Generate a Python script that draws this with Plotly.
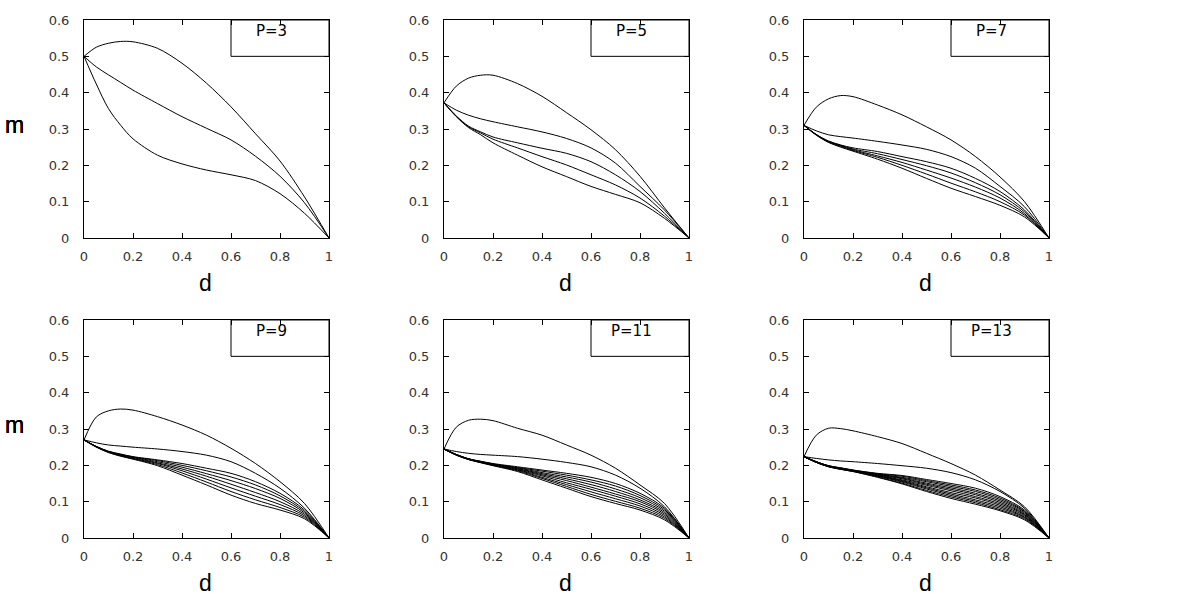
import plotly.graph_objects as go

# d grid shared by every curve
d_vals = [0, 0.05, 0.1, 0.15, 0.2, 0.3, 0.4, 0.5, 0.6, 0.7, 0.8, 0.9, 1.0]

p_labels = ["P=3", "P=5", "P=7", "P=9", "P=11", "P=13"]

m_p3 = [
    [0.5, 0.525, 0.536, 0.541, 0.54, 0.522, 0.481, 0.426, 0.361, 0.287, 0.212, 0.113, 0],
    [0.5, 0.471, 0.449, 0.428, 0.407, 0.37, 0.334, 0.302, 0.27, 0.225, 0.17, 0.097, 0],
    [0.5, 0.424, 0.356, 0.31, 0.273, 0.228, 0.204, 0.187, 0.174, 0.158, 0.122, 0.068, 0],
]

m_p5 = [
    [0.372, 0.418, 0.44, 0.448, 0.448, 0.425, 0.39, 0.345, 0.298, 0.243, 0.17, 0.083, 0],
    [0.372, 0.352, 0.338, 0.328, 0.32, 0.306, 0.292, 0.274, 0.248, 0.206, 0.142, 0.077, 0],
    [0.372, 0.336, 0.308, 0.292, 0.278, 0.262, 0.247, 0.233, 0.21, 0.174, 0.128, 0.068, 0],
    [0.372, 0.335, 0.306, 0.289, 0.272, 0.248, 0.224, 0.201, 0.174, 0.146, 0.11, 0.06, 0],
    [0.372, 0.334, 0.304, 0.284, 0.262, 0.228, 0.196, 0.169, 0.142, 0.12, 0.097, 0.054, 0],
]

m_p7 = [
    [0.31, 0.36, 0.383, 0.392, 0.389, 0.366, 0.339, 0.306, 0.27, 0.224, 0.168, 0.1, 0],
    [0.31, 0.295, 0.284, 0.279, 0.275, 0.266, 0.256, 0.244, 0.224, 0.192, 0.142, 0.086, 0],
    [0.31, 0.285, 0.267, 0.256, 0.248, 0.238, 0.224, 0.21, 0.192, 0.164, 0.128, 0.077, 0],
    [0.31, 0.285, 0.266, 0.255, 0.245, 0.232, 0.216, 0.199, 0.179, 0.152, 0.119, 0.072, 0],
    [0.31, 0.284, 0.265, 0.254, 0.243, 0.226, 0.208, 0.187, 0.165, 0.14, 0.11, 0.067, 0],
    [0.31, 0.284, 0.264, 0.252, 0.241, 0.222, 0.2, 0.176, 0.151, 0.127, 0.1, 0.063, 0],
    [0.31, 0.283, 0.263, 0.25, 0.239, 0.217, 0.192, 0.164, 0.137, 0.114, 0.09, 0.058, 0],
]

m_p9 = [
    [0.27, 0.333, 0.35, 0.355, 0.352, 0.334, 0.311, 0.283, 0.247, 0.205, 0.155, 0.095, 0],
    [0.27, 0.262, 0.256, 0.253, 0.25, 0.245, 0.238, 0.228, 0.21, 0.178, 0.137, 0.082, 0],
    [0.27, 0.252, 0.239, 0.231, 0.224, 0.215, 0.205, 0.192, 0.178, 0.155, 0.123, 0.077, 0],
    [0.27, 0.252, 0.238, 0.23, 0.223, 0.213, 0.2, 0.185, 0.168, 0.146, 0.116, 0.073, 0],
    [0.27, 0.252, 0.238, 0.229, 0.222, 0.21, 0.195, 0.177, 0.158, 0.136, 0.109, 0.069, 0],
    [0.27, 0.251, 0.237, 0.228, 0.221, 0.207, 0.19, 0.17, 0.148, 0.125, 0.1, 0.065, 0],
    [0.27, 0.251, 0.237, 0.227, 0.219, 0.205, 0.185, 0.162, 0.138, 0.115, 0.092, 0.061, 0],
    [0.27, 0.251, 0.236, 0.226, 0.218, 0.202, 0.179, 0.154, 0.128, 0.105, 0.084, 0.057, 0],
    [0.27, 0.25, 0.235, 0.225, 0.217, 0.199, 0.173, 0.146, 0.118, 0.095, 0.077, 0.053, 0],
]

m_p11 = [
    [0.245, 0.305, 0.324, 0.327, 0.323, 0.302, 0.283, 0.256, 0.228, 0.192, 0.146, 0.095, 0],
    [0.245, 0.238, 0.233, 0.23, 0.228, 0.224, 0.217, 0.208, 0.196, 0.173, 0.137, 0.086, 0],
    [0.245, 0.23, 0.218, 0.211, 0.205, 0.196, 0.187, 0.178, 0.167, 0.15, 0.123, 0.082, 0],
    [0.245, 0.23, 0.218, 0.211, 0.204, 0.194, 0.184, 0.173, 0.16, 0.143, 0.117, 0.078, 0],
    [0.245, 0.23, 0.218, 0.21, 0.203, 0.193, 0.18, 0.168, 0.154, 0.135, 0.111, 0.074, 0],
    [0.245, 0.229, 0.217, 0.21, 0.203, 0.191, 0.177, 0.163, 0.147, 0.128, 0.105, 0.07, 0],
    [0.245, 0.229, 0.217, 0.209, 0.202, 0.19, 0.174, 0.158, 0.14, 0.121, 0.1, 0.066, 0],
    [0.245, 0.229, 0.217, 0.209, 0.201, 0.188, 0.171, 0.152, 0.134, 0.115, 0.094, 0.062, 0],
    [0.245, 0.229, 0.216, 0.208, 0.2, 0.187, 0.167, 0.147, 0.127, 0.108, 0.088, 0.058, 0],
    [0.245, 0.228, 0.216, 0.208, 0.2, 0.185, 0.164, 0.142, 0.12, 0.101, 0.082, 0.054, 0],
    [0.245, 0.228, 0.216, 0.207, 0.199, 0.183, 0.16, 0.137, 0.114, 0.095, 0.077, 0.05, 0],
]

m_p13 = [
    [0.224, 0.283, 0.302, 0.301, 0.295, 0.279, 0.26, 0.233, 0.205, 0.173, 0.132, 0.086, 0],
    [0.224, 0.219, 0.215, 0.212, 0.21, 0.205, 0.199, 0.192, 0.18, 0.16, 0.128, 0.082, 0],
    [0.224, 0.21, 0.199, 0.193, 0.187, 0.178, 0.172, 0.161, 0.15, 0.137, 0.114, 0.077, 0],
    [0.224, 0.21, 0.199, 0.193, 0.187, 0.177, 0.17, 0.158, 0.146, 0.132, 0.11, 0.074, 0],
    [0.224, 0.21, 0.198, 0.192, 0.186, 0.176, 0.167, 0.155, 0.142, 0.128, 0.106, 0.072, 0],
    [0.224, 0.21, 0.198, 0.192, 0.186, 0.175, 0.165, 0.151, 0.138, 0.123, 0.102, 0.069, 0],
    [0.224, 0.209, 0.198, 0.191, 0.185, 0.174, 0.163, 0.148, 0.134, 0.119, 0.098, 0.066, 0],
    [0.224, 0.209, 0.198, 0.191, 0.185, 0.173, 0.16, 0.145, 0.13, 0.114, 0.094, 0.064, 0],
    [0.224, 0.209, 0.197, 0.19, 0.185, 0.172, 0.158, 0.141, 0.125, 0.11, 0.09, 0.061, 0],
    [0.224, 0.209, 0.197, 0.19, 0.184, 0.171, 0.156, 0.138, 0.121, 0.105, 0.086, 0.058, 0],
    [0.224, 0.208, 0.197, 0.19, 0.184, 0.17, 0.154, 0.135, 0.117, 0.101, 0.082, 0.056, 0],
    [0.224, 0.208, 0.196, 0.189, 0.183, 0.168, 0.151, 0.131, 0.113, 0.097, 0.078, 0.053, 0],
    [0.224, 0.208, 0.196, 0.189, 0.183, 0.167, 0.149, 0.128, 0.109, 0.093, 0.075, 0.05, 0],
]

panels = [m_p3, m_p5, m_p7, m_p9, m_p11, m_p13]

W, H = 1200, 600
col_px = [84, 444, 804]
row_px = [20, 320]
pw, ph = 245, 218

TICK_FONT = "DejaVu Sans, sans-serif"
TITLE_FONT = "Liberation Sans, Arial, sans-serif"

fig = go.Figure()
layout = {}
annotations = []
shapes = []

for i, curves in enumerate(panels):
    r, c = divmod(i, 3)
    n = i + 1
    xa = "x" if n == 1 else f"x{n}"
    ya = "y" if n == 1 else f"y{n}"
    for m in curves:
        fig.add_trace(go.Scatter(
            x=d_vals, y=m, mode="lines", xaxis=xa, yaxis=ya,
            line=dict(color="black", width=1, shape="spline", smoothing=0.9),
            showlegend=False, hoverinfo="skip",
        ))

    x0, y0 = col_px[c], row_px[r]
    axis_common = dict(
        showgrid=False, zeroline=False, showline=True, linecolor="black",
        linewidth=1, mirror="ticks", ticks="inside", ticklen=5,
        tickcolor="black", tickfont=dict(family=TICK_FONT, size=13, color="#333"),
        fixedrange=True, automargin=False,
    )
    layout["xaxis" if n == 1 else f"xaxis{n}"] = dict(
        axis_common, domain=[x0 / W, (x0 + pw) / W], range=[0, 1],
        dtick=0.2, anchor=ya, ticklabelstandoff=6,
    )
    layout["yaxis" if n == 1 else f"yaxis{n}"] = dict(
        axis_common, domain=[1 - (y0 + ph) / H, 1 - y0 / H], range=[0, 0.6],
        dtick=0.1, anchor=xa, ticklabelstandoff=11,
    )

    # label box in the top right corner
    shapes.append(dict(type="rect", xref=xa, yref=ya, x0=0.6, x1=1, y0=0.5, y1=0.6,
                       line=dict(color="black", width=1), fillcolor="white", layer="below"))
    annotations.append(dict(text=p_labels[i], xref=xa, yref=ya, x=0.767, y=0.569,
                            xanchor="center", yanchor="middle", showarrow=False,
                            font=dict(family=TICK_FONT, size=15, color="black")))
    # axis titles
    annotations.append(dict(text="m", xref="paper", yref="paper", x=14 / W,
                            y=1 - (y0 + 105) / H, xanchor="center", yanchor="middle",
                            showarrow=False,
                            font=dict(family=TITLE_FONT, size=23, color="black")))
    annotations.append(dict(text="d", xref="paper", yref="paper", x=(x0 + 121) / W,
                            y=1 - (y0 + 263) / H, xanchor="center", yanchor="middle",
                            showarrow=False,
                            font=dict(family=TITLE_FONT, size=23, color="black")))

fig.update_layout(
    **layout,
    width=W, height=H,
    margin=dict(l=0, r=0, t=0, b=0),
    paper_bgcolor="white", plot_bgcolor="white",
    showlegend=False,
    annotations=annotations,
    shapes=shapes,
)

# drop the default 8px body margin so the figure fills the window exactly
fig.write_html("out.html", config={"displayModeBar": False},
               post_script="document.body.style.margin = '0';")
